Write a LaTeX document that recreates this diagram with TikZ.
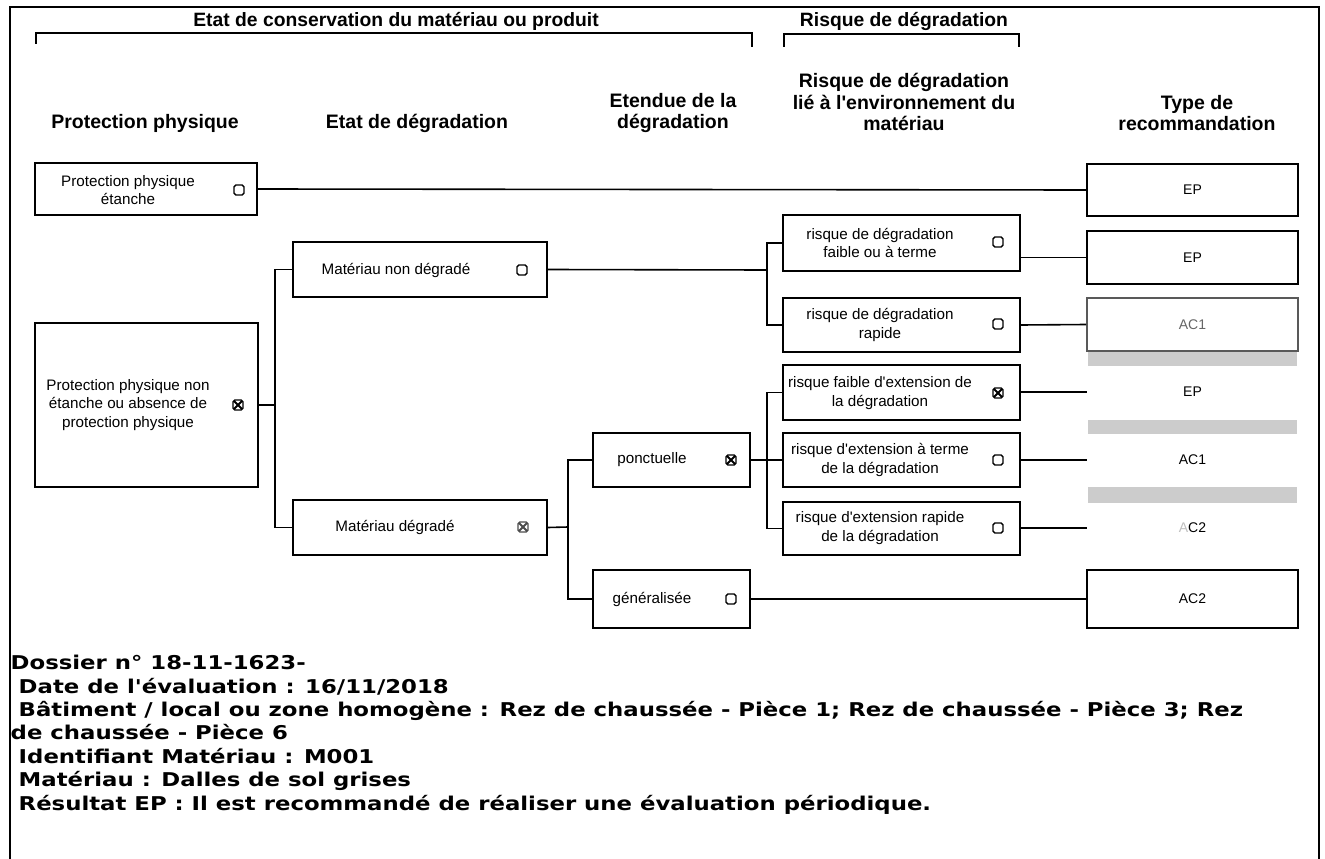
\documentclass[tikz,border=0pt]{standalone}
\usepackage{fontspec}
\setmainfont{Liberation Sans}
\newfontfamily\lsans{Liberation Sans}
\newfontfamily\dvsans[FakeStretch=1.2]{DejaVu Sans}
\tikzset{
  frame/.style={line width=2pt},
  box/.style={draw, line width=1.8pt, inner sep=0pt},
  conn/.style={line width=1.6pt},
  btxt/.style={align=center, inner sep=0pt, font=\lsans\fontsize{15.2}{18.5}\selectfont},
  hdr/.style={align=center, inner sep=0pt, font=\lsans\bfseries\fontsize{19.5}{21.5}\selectfont},
  tophdr/.style={inner sep=0pt, font=\lsans\bfseries\fontsize{19.3}{21}\selectfont},
  rec/.style={minimum width=211pt, inner sep=0pt, font=\lsans\fontsize{14}{16}\selectfont},
  recbox/.style={rec, draw, line width=1.8pt},
  chk/.style={draw, line width=1.4pt, rounded corners=1.8pt, minimum size=10pt, inner sep=0pt},
  chkx/.style={chk, path picture={\draw[line width=2pt]
      (path picture bounding box.south west) -- (path picture bounding box.north east)
      (path picture bounding box.north west) -- (path picture bounding box.south east);}},
  info/.style={align=left, inner sep=0pt, font=\dvsans\bfseries\fontsize{19}{23.4}\selectfont},
}
\begin{document}
\begin{tikzpicture}[x=1pt,y=-1pt]
\useasboundingbox[fill=white] (0,0) rectangle (1325,859);
% outer frame
\draw[frame] (10,859) -- (10,7) -- (1319,7) -- (1319,859);
% top headers and brackets
\node[tophdr] (h1) at (396,21) {Etat de conservation du matériau ou produit};
\node[tophdr] (h2) at (904,21) {Risque de dégradation};
\draw[frame] (36,44) -- (36,33) -- (752,33) -- (752,47);
\draw[frame] (784,47) -- (784,34) -- (1019,34) -- (1019,47);
% column headers
\node[hdr] (c1) at (145,123) {Protection physique};
\node[hdr] (c2) at (417,123) {Etat de dégradation};
\node[hdr] (c3) at (673,113) {Etendue de la\\dégradation};
\node[hdr] (c4) at (904,102) {Risque de dégradation\\lié à l'environnement du\\matériau};
\node[hdr] (c5) at (1197,113) {Type de\\recommandation};
% protection physique
\node[box, minimum width=222pt, minimum height=52pt] (pe) at (146,189) {};
\node[btxt] (pet) at (128,190) {Protection physique\\étanche};
\node[chk] (cpe) at (239,190) {};
\node[box, minimum width=223pt, minimum height=164pt] (pne) at (146.5,405) {};
\node[btxt] (pnet) at (128,405) {Protection physique non\\étanche ou absence de\\protection physique};
\node[chkx] (cpne) at (238,405) {};
% etat de degradation
\node[box, minimum width=254pt, minimum height=55pt] (mnd) at (420,269.5) {};
\node[btxt] (mndt) at (396,270) {Matériau non dégradé};
\node[chk] (cmnd) at (522,270) {};
\node[box, minimum width=254pt, minimum height=55pt] (md) at (420,527.5) {};
\node[btxt] (mdt) at (395,527) {Matériau dégradé};
\node[chkx, draw=black!70] (cmd) at (523,527) {};
% etendue
\node[box, minimum width=157pt, minimum height=54pt] (pon) at (671.5,460) {};
\node[btxt] (pont) at (652,460) {ponctuelle};
\node[chkx] (cpon) at (731,460) {};
\node[box, minimum width=157pt, minimum height=58pt] (gen) at (671.5,599) {};
\node[btxt] (gent) at (652,599) {généralisée};
\node[chk] (cgen) at (731,599) {};
% risque
\node[box, minimum width=237pt, minimum height=56pt] (ra) at (901.5,243) {};
\node[btxt] (rat) at (880,243) {risque de dégradation\\faible ou à terme};
\node[chk] (cra) at (998,242) {};
\node[box, minimum width=237pt, minimum height=54pt] (rb) at (901.5,325) {};
\node[btxt] (rbt) at (880,325) {risque de dégradation\\rapide};
\node[chk] (crb) at (998,324) {};
\node[box, minimum width=237pt, minimum height=55pt] (rc) at (901.5,392.5) {};
\node[btxt] (rct) at (880,393) {risque faible d'extension de\\la dégradation};
\node[chkx] (crc) at (998,393) {};
\node[box, minimum width=237pt, minimum height=54pt] (rd) at (901.5,460) {};
\node[btxt] (rdt) at (880,460) {risque d'extension à terme\\de la dégradation};
\node[chk] (crd) at (998,460) {};
\node[box, minimum width=237pt, minimum height=53pt] (re) at (901.5,528.5) {};
\node[btxt] (ret) at (880,528) {risque d'extension rapide\\de la dégradation};
\node[chk] (cre) at (998,528) {};
% recommandations
\node[recbox, minimum height=52pt] (ep1) at (1192.5,190) {EP};
\node[recbox, minimum height=53pt] (ep2) at (1192.5,257.5) {EP};
\node[recbox, minimum height=53pt, draw=black!65, text=black!60] (ac1) at (1192.5,324.5) {AC1};
\node[rec] (ep3) at (1192.5,392) {EP};
\node[rec] (ac1b) at (1192.5,460) {AC1};
\node[rec] (ac2a) at (1192.5,528) {\textcolor{black!25}{A}C2};
\node[recbox, minimum height=58pt] (ac2b) at (1192.5,599) {AC2};
\fill[gray!40] (1088,352) rectangle (1297,366);
\fill[gray!40] (1088,420) rectangle (1297,434);
\fill[gray!40] (1088,487) rectangle (1297,503);
% connectors
\coordinate (j1) at (275,405);
\coordinate (j2) at (767,270);
\coordinate (j3) at (568,527);
\coordinate (j4) at (767,460);
\draw[conn] (pe.east) -- (ep1.west);
\draw[conn] (pne.east) -- (j1);
\draw[conn] (mnd.west) -| (j1) |- (md.west);
\draw[conn] (mnd.east) -- (j2);
\draw[conn] (ra.west) -| (j2) |- (rb.west);
\draw[conn] (md.east) -- (j3);
\draw[conn] (pon.west) -| (j3) |- (gen.west);
\draw[conn] (pon.east) -- (rd.west);
\draw[conn] (rc.west) -| (j4) |- (re.west);
\draw[conn] (gen.east) -- (ac2b.west);
\draw[conn] (ra.east |- ep2.west) -- (ep2.west);
\draw[conn] (rb.east) -- (ac1.west);
\draw[conn] (rc.east |- ep3.west) -- (ep3.west);
\draw[conn] (rd.east) -- (ac1b.west);
\draw[conn] (re.east |- ac2a.west) -- (ac2a.west);
% bottom information
\node[info, anchor=north west] (info) at (10.5,655) {Dossier n° 18-11-1623-\\
\hspace*{8pt}Date de l'évaluation : 16/11/2018\\
\hspace*{8pt}Bâtiment / local ou zone homogène : Rez de chaussée - Pièce 1; Rez de chaussée - Pièce 3; Rez\\
de chaussée - Pièce 6\\
\hspace*{8pt}Identifiant Matériau : M001\\
\hspace*{8pt}Matériau : Dalles de sol grises\\
\hspace*{8pt}Résultat EP : Il est recommandé de réaliser une évaluation périodique.};
\end{tikzpicture}
\end{document}
